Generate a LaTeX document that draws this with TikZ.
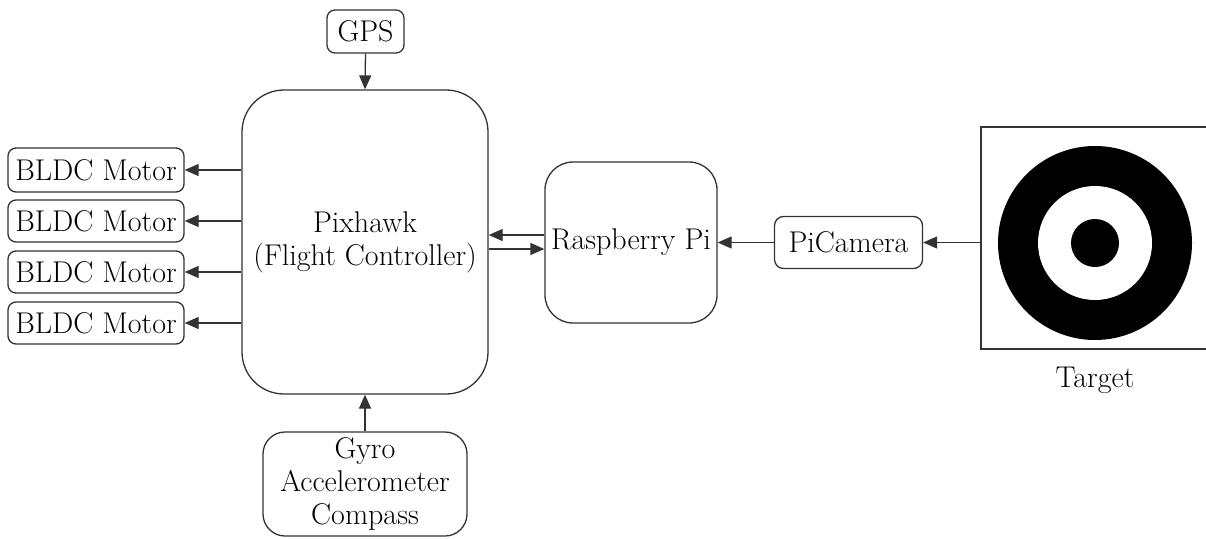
\documentclass[tikz,border=0pt]{standalone}
\usepackage{fontspec}
\usetikzlibrary{arrows.meta}
\tikzset{
  box/.style={draw=black!80, line width=1.3pt, inner sep=0pt, align=center,
    font=\rmfamily\fontsize{30}{33}\selectfont},
  arr/.style={draw=black!80, line width=1.3pt, -{Triangle[length=14pt,width=12pt]}},
}
\begin{document}
\begin{tikzpicture}[x=1pt,y=-1pt]
\useasboundingbox (0,0) rectangle (1206,538);
% nodes
\node[box, rounded corners=8pt, minimum width=77pt, minimum height=43pt] (gps) at (365.5,31.5) {GPS};
\node[box, rounded corners=42pt, minimum width=246pt, minimum height=304pt] (pix) at (365,242) {Pixhawk\\(Flight Controller)};
\node[box, rounded corners=8pt, minimum width=176pt, minimum height=44pt] (m1) at (96,170) {BLDC Motor};
\node[box, rounded corners=8pt, minimum width=176pt, minimum height=42pt] (m2) at (96,221) {BLDC Motor};
\node[box, rounded corners=8pt, minimum width=176pt, minimum height=42pt] (m3) at (96,272) {BLDC Motor};
\node[box, rounded corners=8pt, minimum width=176pt, minimum height=42pt] (m4) at (96,323) {BLDC Motor};
\node[box, rounded corners=22pt, minimum width=204pt, minimum height=104pt] (gyro) at (365,484) {Gyro\\Accelerometer\\Compass};
\node[box, rounded corners=28pt, minimum width=172pt, minimum height=161pt] (rpi) at (631,242.5) {Raspberry Pi};
\node[box, rounded corners=9pt, minimum width=148pt, minimum height=52pt] (cam) at (848.5,242.5) {PiCamera};
\node[box, rounded corners=0pt, minimum width=250pt, minimum height=222pt] (tgt) at (1106,238) {};
\fill[black] (1095,243) circle[radius=97pt];
\fill[white] (1095,243) circle[radius=57pt];
\fill[black] (1095,243) circle[radius=24pt];
\node[font=\rmfamily\fontsize{30}{33}\selectfont, inner sep=0pt] (tlabel) at (1095,380) {Target};
% connectors
\draw[arr] (gps.south) -- (pix.north);
\draw[arr] (gyro.north) -- (pix.south);
\draw[arr] (pix.west |- m1) -- (m1.east);
\draw[arr] (pix.west |- m2) -- (m2.east);
\draw[arr] (pix.west |- m3) -- (m3.east);
\draw[arr] (pix.west |- m4) -- (m4.east);
\draw[arr] (rpi.west |- 0,235) -- (pix.east |- 0,235);
\draw[arr] (pix.east |- 0,249) -- (rpi.west |- 0,249);
\draw[arr] (cam.west) -- (rpi.east |- cam.west);
\draw[arr] (tgt.west |- cam.east) -- (cam.east);
\end{tikzpicture}
\end{document}
